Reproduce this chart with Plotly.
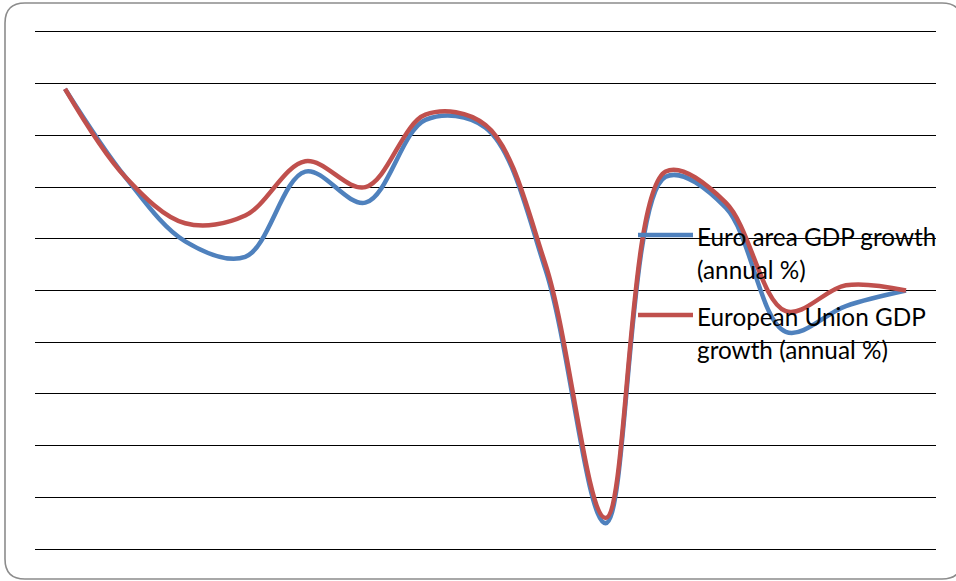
import plotly.graph_objects as go

# Annual GDP growth, %
years = [str(y) for y in range(2000, 2015)]
euro_area = [3.9, 2.2, 0.95, 0.65, 2.3, 1.7, 3.3, 3.15, 0.4, -4.5, 2.2, 1.6, -0.8, -0.3, 0.0]
european_union = [3.9, 2.2, 1.3, 1.45, 2.5, 2.0, 3.4, 3.2, 0.5, -4.4, 2.3, 1.7, -0.4, 0.1, 0.0]

series_names = ["Euro area GDP growth (annual %)", "European Union GDP growth (annual %)"]
legend_lines = [["Euro area GDP growth", "(annual %)"], ["European Union GDP", "growth (annual %)"]]
colors = ["#4F81BD", "#C0504D"]

W, H = 956, 581
ML, MR, MT, MB = 35, 20, 32, 32
PW, PH = W - ML - MR, H - MT - MB


def px_x(p):
    return (p - ML) / PW


def px_y(p):
    return (H - MB - p) / PH


fig = go.Figure()
for name, vals, col in zip(series_names, [euro_area, european_union], colors):
    fig.add_trace(go.Scatter(
        x=years, y=vals, name=name, mode="lines",
        line=dict(color=col, width=4.5, shape="spline", smoothing=1.0),
        showlegend=False, hoverinfo="x+y+name",
    ))

# Rounded chart-area border
x0, x1, y0, y1, r = 5, 962, 3, 579, 20
rx, ry = r / PW, r / PH
X0, X1, Y0, Y1 = px_x(x0), px_x(x1), px_y(y0), px_y(y1)
border = (f"M {X0 + rx} {Y0} L {X1 - rx} {Y0} Q {X1} {Y0} {X1} {Y0 - ry} "
          f"L {X1} {Y1 + ry} Q {X1} {Y1} {X1 - rx} {Y1} "
          f"L {X0 + rx} {Y1} Q {X0} {Y1} {X0} {Y1 + ry} "
          f"L {X0} {Y0 - ry} Q {X0} {Y0} {X0 + rx} {Y0} Z")
shapes = [dict(type="path", path=border, xref="paper", yref="paper",
               line=dict(color="#8C8C8C", width=1.6), layer="below")]

# Legend entries: line sample plus two lines of text each
annotations = []
entry_rows = [(236, 269), (316, 349)]
for (r1, r2), lines, col in zip(entry_rows, legend_lines, colors):
    shapes.append(dict(type="line", xref="paper", yref="paper",
                       x0=px_x(638), x1=px_x(693), y0=px_y(r1 - 1), y1=px_y(r1 - 1),
                       line=dict(color=col, width=4.5), layer="above"))
    for row, txt in zip((r1, r2), lines):
        annotations.append(dict(text=txt, xref="paper", yref="paper",
                                x=px_x(695), y=px_y(row), xanchor="left", yanchor="middle",
                                showarrow=False,
                                font=dict(family="Lato", size=24.3, color="#000000")))

fig.update_layout(
    width=W, height=H,
    margin=dict(l=ML, r=MR, t=MT, b=MB),
    paper_bgcolor="white", plot_bgcolor="white",
    shapes=shapes, annotations=annotations,
    xaxis=dict(type="category", range=[-0.5, 14.5], showgrid=False, showticklabels=False,
               showline=True, mirror=True, linecolor="#000000", linewidth=1.3,
               zeroline=False, ticks=""),
    yaxis=dict(range=[-5, 5], dtick=1, tick0=-5, showgrid=True, gridcolor="#000000",
               gridwidth=1.3, zeroline=True, zerolinecolor="#000000", zerolinewidth=1.3,
               showticklabels=False, showline=False, ticks=""),
)

fig.write_html("out.html")
